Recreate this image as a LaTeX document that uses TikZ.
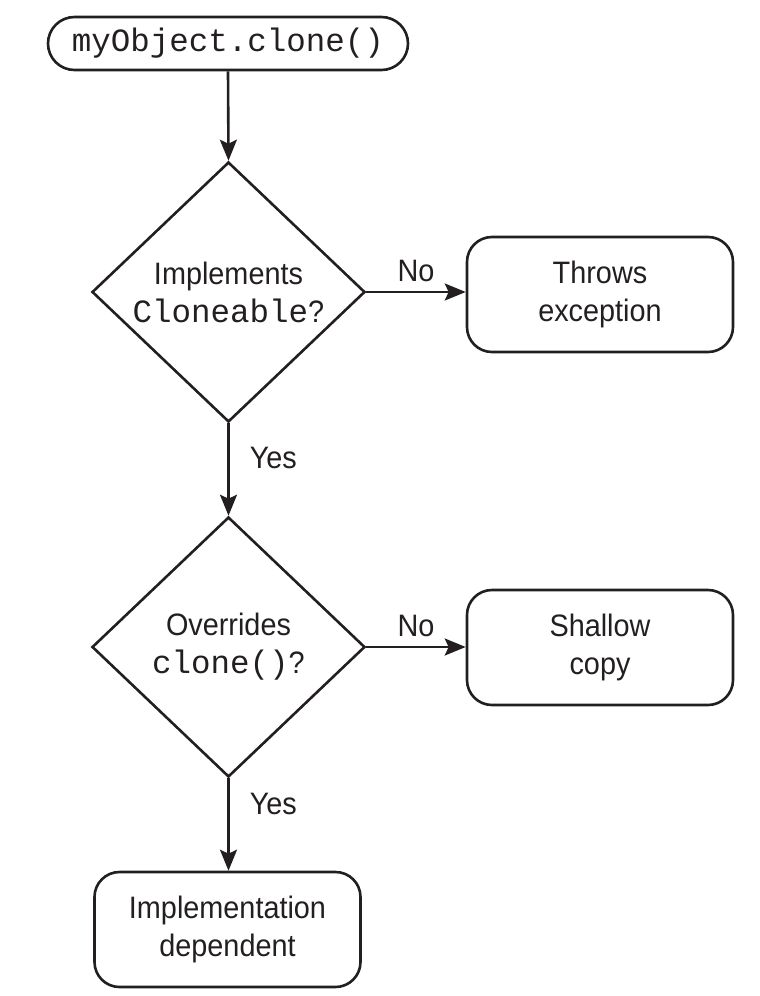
\documentclass[tikz,border=0pt]{standalone}
\usepackage{fontspec}
\setmainfont{Liberation Sans}[FakeStretch=0.93]
\setmonofont{Liberation Mono}
\usetikzlibrary{shapes.geometric,shapes.misc,arrows.meta}
\definecolor{ink}{RGB}{35,31,32}
\newcommand\mycode[1]{{\fontsize{32.5}{38}\selectfont\ttfamily #1}}
\tikzset{
  base/.style={draw=ink, line width=2.6pt, text=ink, align=center, inner sep=0pt,
    font=\fontsize{31}{38}\selectfont},
  pill/.style={base, rounded rectangle, minimum width=360pt, minimum height=53pt},
  decide/.style={base, diamond, minimum width=273pt, minimum height=260pt},
  outcome/.style={base, rectangle, rounded corners=25pt, minimum width=266pt, minimum height=115pt},
  flow/.style={draw=ink, line width=2.6pt, -{Stealth[length=21pt,width=17pt,inset=4pt]}},
  lbl/.style={text=ink, inner sep=0pt, font=\fontsize{31}{38}\selectfont},
}
\begin{document}
\begin{tikzpicture}[x=1pt,y=-1pt]
\useasboundingbox (0,0) rectangle (760,996);
\node[pill] (start) at (228,43.5) {\mycode{myObject.clone()}};
\node[decide] (d1) at (228.5,292) {Implements\\\mycode{Cloneable}?};
\node[outcome] (b1) at (600,294.5) {Throws\\exception};
\node[decide] (d2) at (228.5,647) {Overrides\\\mycode{clone()}?};
\node[outcome] (b2) at (600,647.5) {Shallow\\copy};
\node[outcome] (b3) at (227.5,929.5) {Implementation\\dependent};
\draw[flow] (start.south) -- (d1.north);
\draw[flow] (d1.east) -- node[lbl, above=9pt] (no1) {No} (b1.west |- d1.east);
\draw[flow] (d1.south) -- node[lbl, right=20pt, pos=0.38] (yes1) {Yes} (d2.north);
\draw[flow] (d2.east) -- node[lbl, above=9pt] (no2) {No} (b2.west |- d2.east);
\draw[flow] (d2.south) -- node[lbl, right=20pt, pos=0.28] (yes2) {Yes} (d2.south |- b3.north);
\end{tikzpicture}
\end{document}
